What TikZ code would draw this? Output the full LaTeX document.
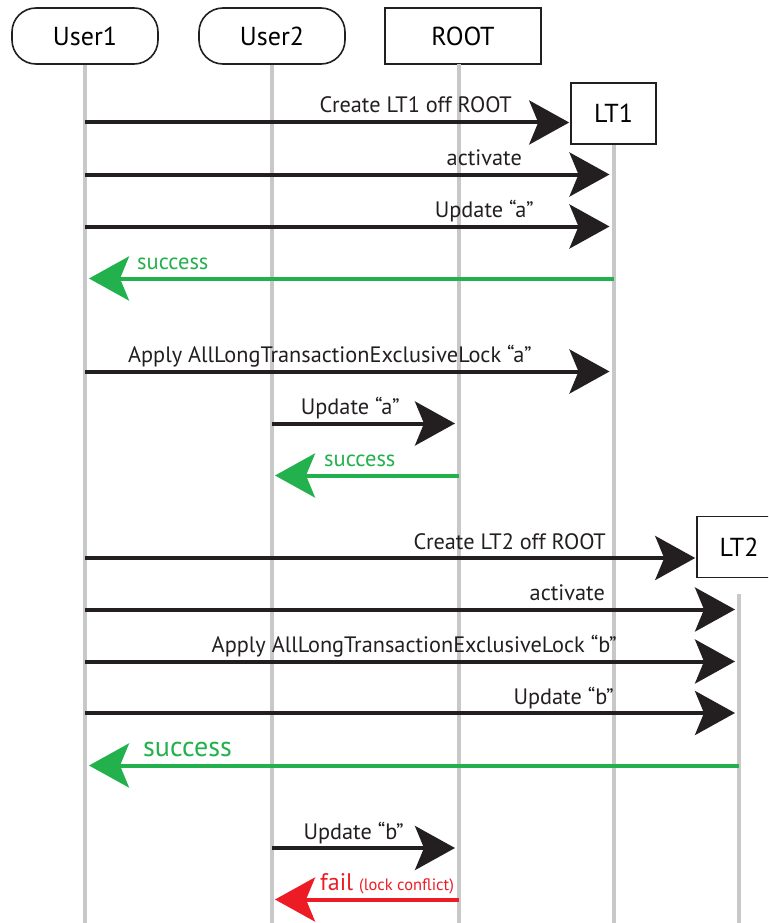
\documentclass[tikz,border=0pt]{standalone}
\usepackage{fontspec}
\setmainfont{PT Sans}
\usepackage{tikz}
\usepackage{xcolor}
\usetikzlibrary{arrows.meta}
\definecolor{ink}{RGB}{35,31,32}
\definecolor{ok-green}{RGB}{34,177,76}
\definecolor{fail-red}{RGB}{237,28,36}
\definecolor{life-gray}{RGB}{200,200,200}
\tikzset{
    actor-box/.style = {draw=ink, line width=1.6pt, rectangle, rounded corners=24pt, minimum width=146pt, minimum height=56pt, font=\fontsize{26}{30}\selectfont},
    object-box/.style = {draw=ink, line width=1.6pt, rectangle, minimum height=61pt, font=\fontsize{26}{30}\selectfont},
    lifeline/.style = {draw=life-gray, line width=4pt},
    msg/.style = {color=ink, line width=4pt, -{Stealth[length=40pt, width=44pt, inset=9pt]}, shorten >=4pt},
    reply/.style = {msg, color=ok-green},
    msg-label/.style = {anchor=base east, inner sep=0pt, text=ink, font=\fontsize{22.3}{26}\selectfont},
    reply-label/.style = {anchor=base west, inner sep=0pt, text=ok-green, font=\fontsize{22.5}{26}\selectfont},
}

\begin{document}
\begin{tikzpicture}[x=1pt, y=-1pt]
\clip (0,0) rectangle (768,923);
\coordinate (bottom) at (0,923);

% participants
\node [actor-box] (user1) at (85,36) {User1};
\node [actor-box] (user2) at (272,36) {User2};
\node [object-box, minimum width=156pt, minimum height=56pt] (root) at (463,36) {ROOT};
\node [object-box, minimum width=85pt] (lt1) at (613.5,113.5) {LT1};
\node [object-box, minimum width=84pt] (lt2) at (739,547) {LT2};
\coordinate (root-line) at (459,64);

% lifelines
\draw [lifeline] (user1.south) -- (user1.south |- bottom);
\draw [lifeline] (user2.south) -- (user2.south |- bottom);
\draw [lifeline] (root-line) -- (root-line |- bottom);
\draw [lifeline] (lt1.south) -- (lt1.south |- bottom);
\draw [lifeline, shorten <=16pt] (lt2.south) -- (lt2.south |- bottom);

% first long transaction
\draw [msg, shorten >=1pt] (user1 |- 0,122.5) -- (lt1.west |- 0,122.5);
\node [msg-label] (create-lt1) at (512,113) {Create LT1 off ROOT};
\draw [msg] (user1 |- 0,174.5) -- (lt1 |- 0,174.5);
\node [msg-label] (activate-lt1) at (522,165) {activate};
\draw [msg] (user1 |- 0,226.5) -- (lt1 |- 0,226.5);
\node [msg-label] (update-a) at (534,217) {Update “a”};
\draw [reply] (lt1 |- 0,278.5) -- (user1 |- 0,278.5);
\node [reply-label] (success-a) at (137,269) {success};

\draw [msg] (user1 |- 0,371.5) -- (lt1 |- 0,371.5);
\node [msg-label] (lock-a) at (532,362) {Apply AllLongTransactionExclusiveLock “a”};
\draw [msg] (user2 |- 0,423.5) -- (root-line |- 0,423.5);
\node [msg-label] (update-a-root) at (400,414) {Update “a”};
\draw [reply, shorten >=3pt] (root-line |- 0,475.5) -- (user2 |- 0,475.5);
\node [reply-label] (success-a-root) at (324,466) {success};

% second long transaction
\draw [msg, shorten >=1pt] (user1 |- 0,558) -- (lt2.west |- 0,558);
\node [msg-label] (create-lt2) at (606,549) {Create LT2 off ROOT};
\draw [msg] (user1 |- 0,609.5) -- (lt2 |- 0,609.5);
\node [msg-label] (activate-lt2) at (605,600) {activate};
\draw [msg] (user1 |- 0,661.5) -- (lt2 |- 0,661.5);
\node [msg-label] (lock-b) at (617,652) {Apply AllLongTransactionExclusiveLock “b”};
\draw [msg] (user1 |- 0,713) -- (lt2 |- 0,713);
\node [msg-label] (update-b) at (614,704) {Update “b”};
\draw [reply] (lt2 |- 0,765.5) -- (user1 |- 0,765.5);
\node [reply-label, font=\fontsize{28}{32}\selectfont] (success-b) at (143,756) {success};

\draw [msg] (user2 |- 0,848) -- (root-line |- 0,848);
\node [msg-label] (update-b-root) at (404,839) {Update “b”};
\draw [reply, color=fail-red, shorten >=3pt] (root-line |- 0,899.5) -- (user2 |- 0,899.5);
\node [reply-label, text=fail-red] (fail-b) at (320,890) {{\fontsize{24}{26}\selectfont fail} {\fontsize{16.5}{18}\selectfont (lock conflict)}};
\end{tikzpicture}
\end{document}
